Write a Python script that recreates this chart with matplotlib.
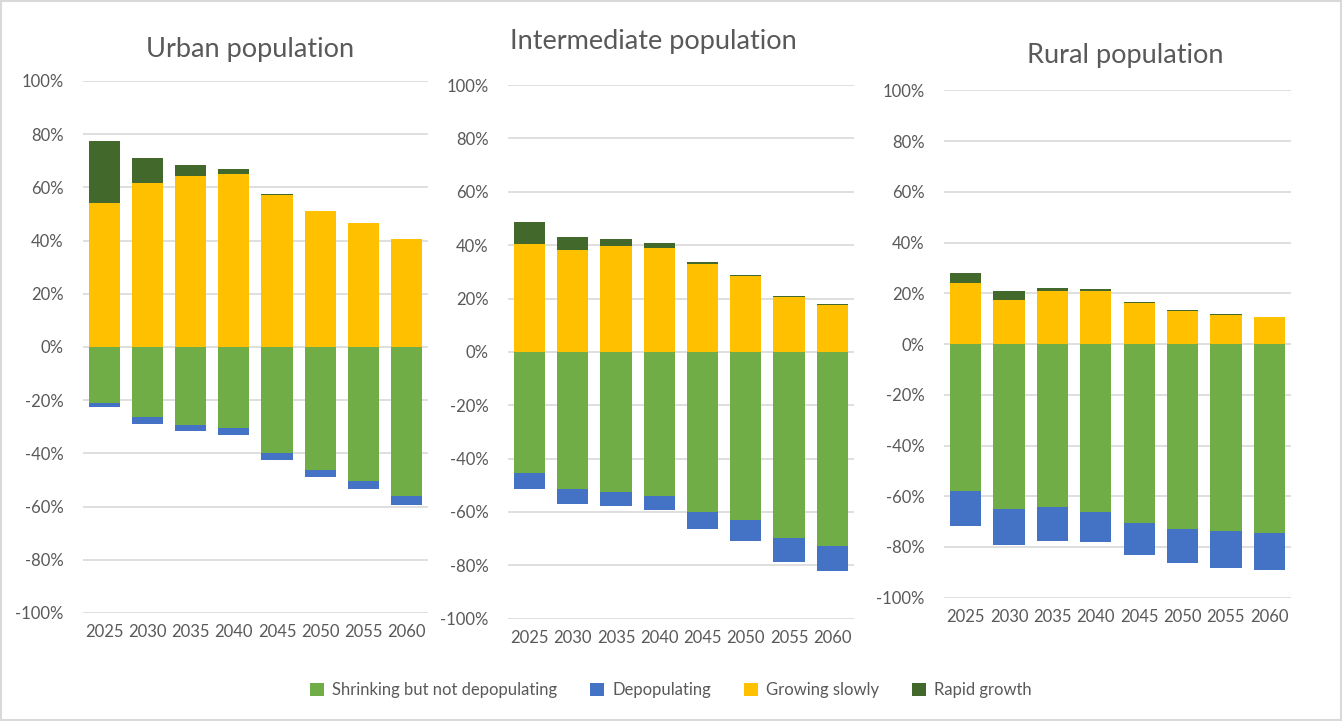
import matplotlib.pyplot as plt
from matplotlib.patches import Rectangle, Patch
from matplotlib.ticker import FuncFormatter

plt.rcParams['font.family'] = ['Lato', 'DejaVu Sans']

years = ['2025', '2030', '2035', '2040', '2045', '2050', '2055', '2060']

# urban
urban_growing = [54.1, 61.7, 64.3, 65.0, 57.1, 51.0, 46.5, 40.5]
urban_rapid = [23.2, 9.2, 4.0, 1.8, 0.3, 0.0, 0.0, 0.0]
urban_shrinking = [-21.0, -26.4, -29.4, -30.5, -39.9, -46.3, -50.4, -56.0]
urban_depop = [-1.5, -2.5, -2.1, -2.5, -2.5, -2.5, -2.9, -3.3]

# intermediate
inter_growing = [40.5, 38.2, 39.8, 39.0, 33.0, 28.5, 20.6, 17.6]
inter_rapid = [8.2, 4.8, 2.5, 1.8, 0.7, 0.5, 0.5, 0.3]
inter_shrinking = [-45.4, -51.4, -52.5, -54.1, -60.1, -63.0, -69.8, -72.9]
inter_depop = [-5.9, -5.5, -5.2, -5.1, -6.3, -7.9, -9.1, -9.4]

# rural
rural_growing = [23.9, 17.4, 21.1, 21.1, 16.4, 13.2, 11.6, 10.7]
rural_rapid = [4.2, 3.6, 1.1, 0.7, 0.3, 0.3, 0.3, 0.0]
rural_shrinking = [-57.8, -65.2, -64.4, -66.4, -70.7, -73.1, -73.8, -74.6]
rural_depop = [-14.0, -14.0, -13.2, -11.6, -12.4, -13.2, -14.4, -14.4]

titles = ['Urban population', 'Intermediate population', 'Rural population']
series_names = ['Shrinking but not depopulating', 'Depopulating', 'Growing slowly', 'Rapid growth']
colors = ['#70AD47', '#4472C4', '#FFC000', '#43682B']

panels = [
    (urban_growing, urban_rapid, urban_shrinking, urban_depop),
    (inter_growing, inter_rapid, inter_shrinking, inter_depop),
    (rural_growing, rural_rapid, rural_shrinking, rural_depop),
]

# axes boxes in figure fractions (left, bottom, width, height)
boxes = [
    [0.0618, 0.1498, 0.2571, 0.7379],
    [0.3785, 0.1419, 0.2578, 0.7401],
    [0.7034, 0.1710, 0.2586, 0.7035],
]
title_pos = [(250, 49), (653, 42), (1125, 55)]

fig = plt.figure(figsize=(13.42, 7.21), dpi=100)
grey = '#595959'

for i, (growing, rapid, shrinking, depop) in enumerate(panels):
    ax = fig.add_axes(boxes[i])
    x = range(len(years))
    ax.bar(x, shrinking, width=0.72, color=colors[0], zorder=3)
    ax.bar(x, depop, width=0.72, bottom=shrinking, color=colors[1], zorder=3)
    ax.bar(x, growing, width=0.72, color=colors[2], zorder=3)
    ax.bar(x, rapid, width=0.72, bottom=growing, color=colors[3], zorder=3)
    ax.set_ylim(-100, 100)
    ax.set_xlim(-0.5, len(years) - 0.5)
    ax.set_yticks(range(-100, 101, 20))
    ax.yaxis.set_major_formatter(FuncFormatter(lambda v, p: '%d%%' % v))
    ax.set_xticks(list(x))
    ax.set_xticklabels(years)
    ax.grid(axis='y', color='#D9D9D9', linewidth=1.2, zorder=0)
    ax.tick_params(length=0, labelsize=12, labelcolor=grey)
    ax.tick_params(axis='y', pad=14)
    ax.tick_params(axis='x', pad=8)
    for s in ax.spines.values():
        s.set_visible(False)
    tx, ty = title_pos[i]
    fig.text(tx / 1342, 1 - ty / 721, titles[i], ha='center', va='center',
             fontsize=19.5, color=grey)

handles = [Patch(facecolor=c, edgecolor='none') for c in colors]
fig.legend(handles, series_names, loc='center', bbox_to_anchor=(0.5, 1 - 690 / 721),
           ncol=4, frameon=False, fontsize=12, labelcolor=grey,
           handlelength=0.8, handleheight=0.8, handletextpad=0.5, columnspacing=2.0)

fig.patches.append(Rectangle((0.001, 0.001), 0.998, 0.998, transform=fig.transFigure,
                             fill=False, edgecolor='#D9D9D9', linewidth=1.5))

fig.savefig('out.png', dpi=100)
